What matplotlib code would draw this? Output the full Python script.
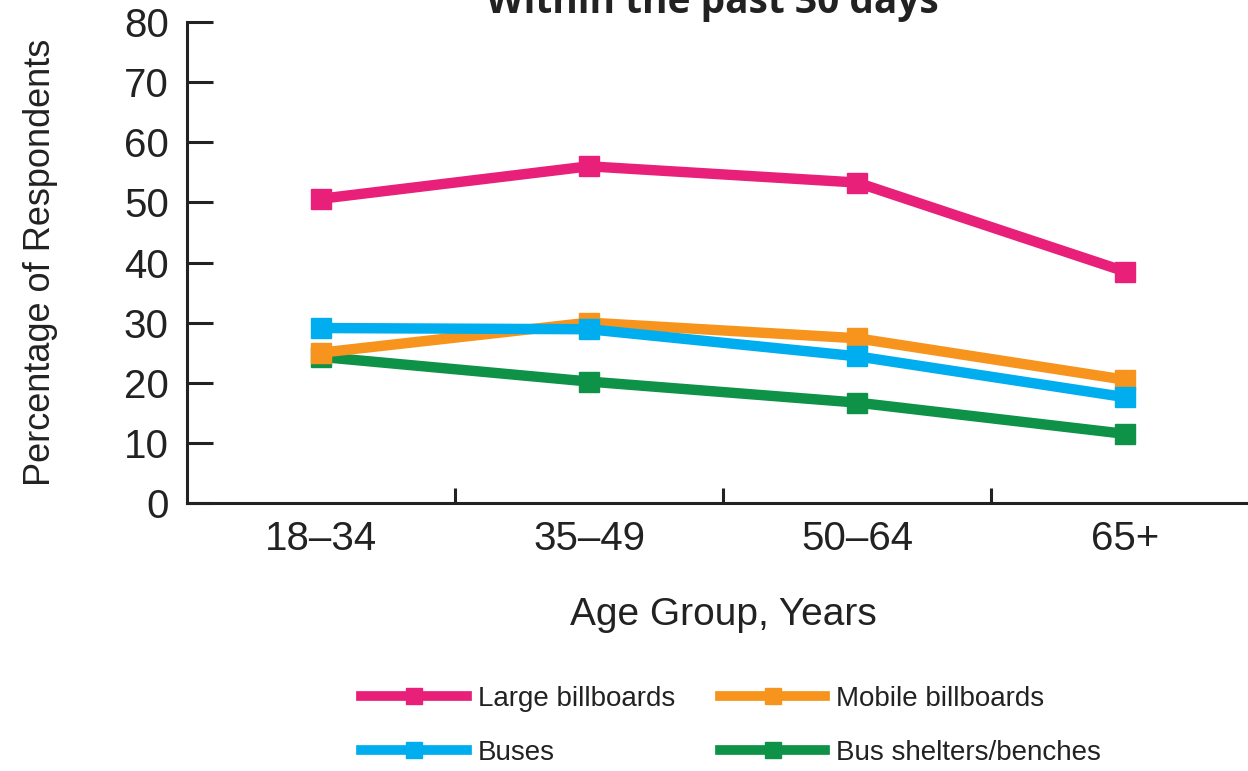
import matplotlib
matplotlib.use("Agg")
import matplotlib.pyplot as plt
from matplotlib import font_manager as fm

names = {f.name for f in fm.fontManager.ttflist}
FONT = "Liberation Sans Narrow" if "Liberation Sans Narrow" in names else "Liberation Sans"
plt.rcParams['font.family'] = [FONT, 'DejaVu Sans']

categories = ["18–34", "35–49", "50–64", "65+"]
large_billboards = [50.6, 56.0, 53.3, 38.5]
mobile_billboards = [25.0, 30.0, 27.4, 20.5]
buses = [29.1, 28.9, 24.4, 17.6]
bus_shelters = [24.3, 20.2, 16.7, 11.5]
yticks = [0, 10, 20, 30, 40, 50, 60, 70, 80]

fig = plt.figure(figsize=(12.48, 7.71), dpi=100)
ax = fig.add_axes([187/1248, 1-503/771, (1259-187)/1248, (503-22)/771])

x = list(range(len(categories)))
series = [
    ("Bus shelters/benches", bus_shelters, "#0E9247"),
    ("Mobile billboards", mobile_billboards, "#F7941D"),
    ("Buses", buses, "#00AEEF"),
    ("Large billboards", large_billboards, "#E8207A"),
]
h = {}
for name, vals, col in series:
    (ln,) = ax.plot(x, vals, color=col, lw=7.5, marker='s', ms=15,
                    solid_joinstyle='miter', label=name, clip_on=False)
    h[name] = ln

ax.set_xlim(-0.5, 3.5)
ax.set_ylim(0, 80)
ax.set_yticks(yticks)
ax.set_xticks(x)
ax.set_xticklabels(categories)
ax.set_xticks([0.5, 1.5, 2.5], minor=True)
for s in ['top', 'right']:
    ax.spines[s].set_visible(False)
for s in ['left', 'bottom']:
    ax.spines[s].set_linewidth(2.2)
    ax.spines[s].set_color('#222222')
ax.tick_params(axis='y', direction='in', length=19, width=2.2, color='#222222',
               labelsize=29, pad=13, labelcolor='#222222')
ax.tick_params(axis='x', which='major', length=0, labelsize=29, pad=12, labelcolor='#222222')
ax.tick_params(axis='x', which='minor', direction='in', length=11, width=2.2, color='#222222')
ax.set_ylabel("Percentage of Respondents", fontsize=26, color='#222222')
ax.yaxis.set_label_coords((58 - 187) / 1072, 0.5)
ax.set_xlabel("Age Group, Years", fontsize=28, color='#222222', labelpad=28)

fig.text(0.571, 1 - 13/771, "Within the past 30 days", ha='center', va='baseline',
         fontsize=28, fontweight='bold', color='#222222', family=['Open Sans', 'DejaVu Sans'])

order = ["Large billboards", "Buses", "Mobile billboards", "Bus shelters/benches"]
leg = fig.legend([h[n] for n in order], order, ncol=2, loc='center',
                 bbox_to_anchor=(0.586, 1 - 726/771), frameon=False, fontsize=20,
                 handlelength=3.8, handletextpad=0.4, columnspacing=1.6,
                 labelspacing=1.0, numpoints=1, markerscale=0.75)
for line in leg.get_lines():
    line.set_linewidth(7)
for t in leg.get_texts():
    t.set_color('#222222')

fig.savefig("out.png", dpi=100)
